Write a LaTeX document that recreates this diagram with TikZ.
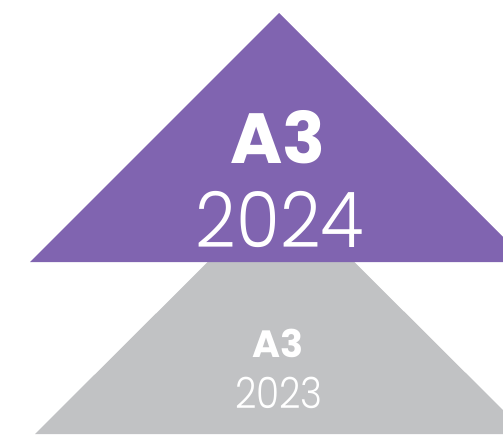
\documentclass[tikz,border=0pt]{standalone}
\usepackage{fontspec}
\setmainfont{Poppins}
\newfontfamily\popbold{Poppins Bold}
\newfontfamily\poplight{Poppins Light}
\definecolor{tripurple}{RGB}{128,100,176}
\definecolor{trigrey}{RGB}{193,194,196}
\begin{document}
\begin{tikzpicture}[x=1pt,y=-1pt,
  lbl/.style={text=white,inner sep=0pt,anchor=base}]
\useasboundingbox (0,0) rectangle (503,434);
\begin{scope}
\clip (0,0) rectangle (503,434);
\fill[trigrey] (281,189) -- (527,434) -- (35,434) -- cycle;
\fill[tripurple] (279,13) -- (528,262) -- (30,262) -- cycle;
\end{scope}
\node[lbl,font=\popbold\fontsize{71}{71}\selectfont] (a3top) at (278,163) {A3};
\node[lbl,xscale=0.92,font=\poplight\fontsize{77}{77}\selectfont] (ytop) at (280,247) {2024};
\node[lbl,font=\popbold\fontsize{38}{38}\selectfont] (a3bot) at (278,357) {A3};
\node[lbl,xscale=0.87,font=\poplight\fontsize{43}{43}\selectfont] (ybot) at (279,408) {2023};
\end{tikzpicture}
\end{document}
